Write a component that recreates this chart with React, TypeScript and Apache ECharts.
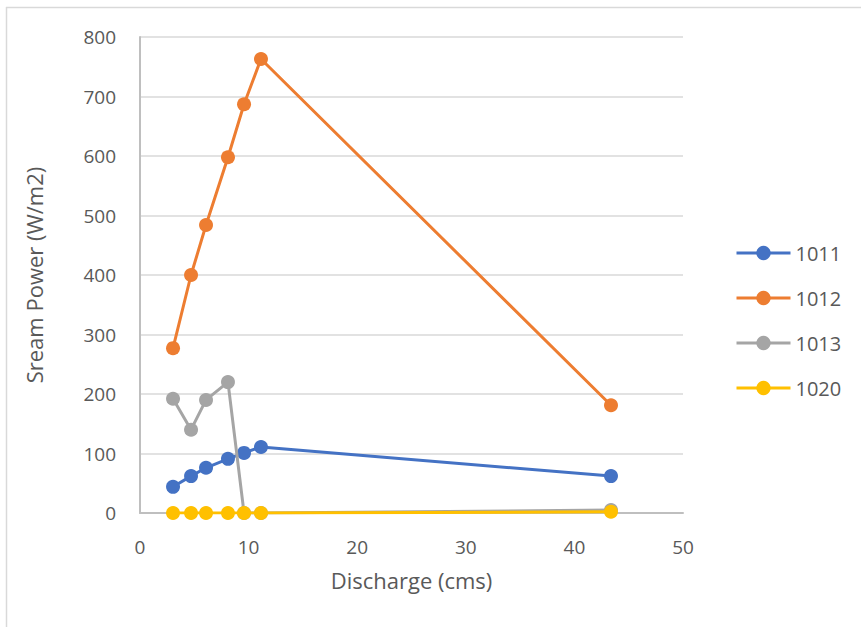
import React, { useEffect, useRef } from "react";
import * as echarts from "echarts";

const discharge = [3.04, 4.7, 6.08, 8.1, 9.58, 11.14, 43.37];
const s1011 = [44, 62, 76, 91, 101, 111, 62];
const s1012 = [277, 400, 484, 598, 687, 763, 181];
const s1013 = [192, 140, 190, 220, 0, 0, 5];
const s1020 = [0, 0, 0, 0, 0, 0, 2];
const seriesNames = ["1011", "1012", "1013", "1020"];
const seriesColors = ["#4472C4", "#ED7D31", "#A5A5A5", "#FFC000"];
const seriesValues = [s1011, s1012, s1013, s1020];

const FONT = "'Open Sans', sans-serif";

export default function App() {
  const ref = useRef<HTMLDivElement>(null);
  useEffect(() => {
    if (!ref.current) return;
    const chart = echarts.init(ref.current, undefined, { renderer: "svg" });
    chart.setOption({
      animation: false,
      backgroundColor: "#fff",
      textStyle: { fontFamily: FONT },
      grid: { left: 140, right: 178, top: 37, bottom: 114 },
      xAxis: {
        type: "value",
        min: 0,
        max: 50,
        interval: 10,
        name: "Discharge (cms)",
        nameLocation: "middle",
        nameGap: 56,
        nameTextStyle: { fontSize: 22, color: "#595959", fontFamily: FONT },
        axisLine: { show: true, lineStyle: { color: "#bfbfbf", width: 2 } },
        axisTick: { show: false },
        axisLabel: { fontSize: 19, color: "#595959", margin: 24, fontFamily: FONT },
        splitLine: { show: false },
      },
      yAxis: {
        type: "value",
        min: 0,
        max: 800,
        interval: 100,
        name: "Sream Power (W/m2)",
        nameLocation: "middle",
        nameGap: 95,
        nameTextStyle: { fontSize: 22, color: "#595959", fontFamily: FONT },
        axisLine: { show: true, lineStyle: { color: "#bfbfbf", width: 2 } },
        axisTick: { show: false },
        axisLabel: { fontSize: 19, color: "#595959", margin: 24, fontFamily: FONT },
        splitLine: { show: true, lineStyle: { color: "#d9d9d9", width: 1.5 } },
      },
      legend: {
        orient: "vertical",
        left: 730,
        top: 238,
        itemWidth: 54,
        itemHeight: 18,
        itemGap: 25,
        lineStyle: { width: 3 },
        textStyle: { fontSize: 20, color: "#595959", fontFamily: FONT },
        data: seriesNames,
      },
      graphic: [
        { type: "line", shape: { x1: 6.5, y1: 7, x2: 6.5, y2: 627 }, style: { stroke: "#d9d9d9", lineWidth: 1.5 } },
        { type: "line", shape: { x1: 6, y1: 7.5, x2: 861, y2: 7.5 }, style: { stroke: "#d9d9d9", lineWidth: 1.5 } },
      ],
      series: seriesNames.map((name, i) => ({
        name,
        type: "line",
        data: discharge.map((x, j) => [x, seriesValues[i][j]]),
        symbol: "circle",
        symbolSize: 14,
        color: seriesColors[i],
        lineStyle: { width: 3, color: seriesColors[i] },
        itemStyle: { color: seriesColors[i] },
        z: 2 + i,
      })),
    });
    return () => chart.dispose();
  }, []);
  return (
    <div
      ref={ref}
      style={{ position: "absolute", left: 0, top: 0, width: 861, height: 627 }}
    />
  );
}
